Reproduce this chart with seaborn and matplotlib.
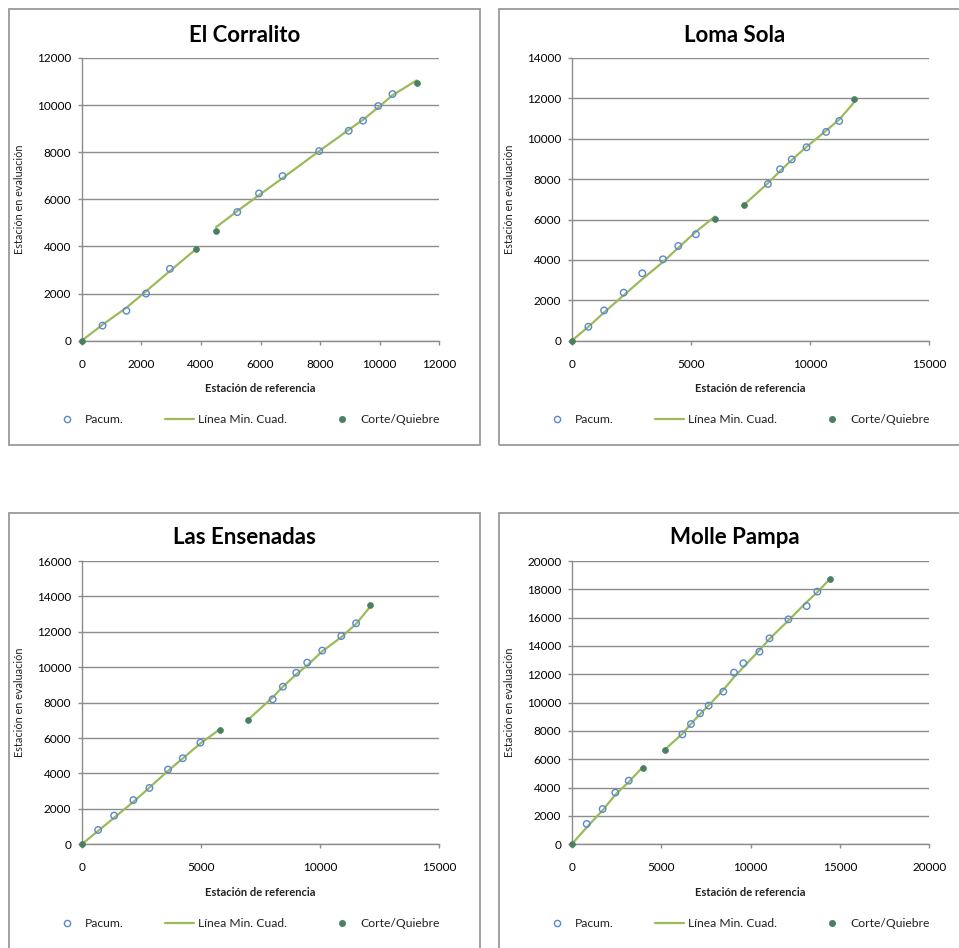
import numpy as np
import pandas as pd
import matplotlib
matplotlib.use("Agg")
import matplotlib.pyplot as plt
from matplotlib.patches import Rectangle
from matplotlib.lines import Line2D
import seaborn as sns

# ---- Datos: precipitación acumulada (mm) ----
# El Corralito
ec_ref = [0, 700, 1500, 2160, 2960, 3840, 4510, 5220, 5950, 6740, 7970, 8960, 9440, 9950, 10430, 11240]
ec_eva = [0, 640, 1270, 2000, 3050, 3890, 4670, 5460, 6250, 6990, 8050, 8910, 9340, 9960, 10470, 10920]
ec_ajuste = [0, 680, 1400, 2100, 2960, 3890, 4820, 5500, 6180, 6900, 8050, 8950, 9380, 9900, 10420, 11050]
ec_tramo = [1, 1, 1, 1, 1, 1, 2, 2, 2, 2, 2, 2, 2, 2, 2, 2]
ec_corte = [0, 5, 6, 15]

# Loma Sola
ls_ref = [0, 700, 1360, 2180, 2960, 3830, 4470, 5210, 6010, 7240, 8230, 8740, 9230, 9850, 10670, 11220, 11840]
ls_eva = [0, 690, 1500, 2380, 3340, 4030, 4690, 5270, 6030, 6740, 7760, 8490, 8980, 9580, 10340, 10880, 11970]
ls_ajuste = [0, 690, 1400, 2250, 3050, 3900, 4600, 5400, 6150, 6740, 7800, 8400, 8950, 9600, 10400, 10950, 11800]
ls_tramo = [1, 1, 1, 1, 1, 1, 1, 1, 1, 2, 2, 2, 2, 2, 2, 2, 2]
ls_corte = [0, 8, 9, 16]

# Las Ensenadas
le_ref = [0, 690, 1360, 2170, 2840, 3620, 4240, 4980, 5800, 6990, 8010, 8440, 9000, 9460, 10090, 10890, 11510, 12090]
le_eva = [0, 810, 1620, 2500, 3180, 4220, 4860, 5740, 6460, 7020, 8190, 8900, 9690, 10260, 10940, 11760, 12480, 13500]
le_ajuste = [0, 760, 1500, 2400, 3200, 4150, 4850, 5700, 6500, 7050, 8300, 8900, 9600, 10100, 10900, 11700, 12450, 13400]
le_tramo = [1, 1, 1, 1, 1, 1, 1, 1, 1, 2, 2, 2, 2, 2, 2, 2, 2, 2]
le_corte = [0, 8, 9, 17]

# Molle Pampa
mp_ref = [0, 840, 1730, 2440, 3190, 4010, 5220, 6190, 6670, 7180, 7660, 8480, 9080, 9600, 10500, 11060, 12120, 13140, 13740, 14450]
mp_eva = [0, 1440, 2490, 3650, 4490, 5360, 6660, 7760, 8490, 9250, 9790, 10780, 12120, 12780, 13600, 14540, 15880, 16820, 17840, 18730]
mp_ajuste = [0, 1200, 2400, 3500, 4400, 5500, 6700, 7800, 8500, 9200, 9800, 10900, 11800, 12500, 13700, 14500, 15800, 17100, 17800, 18750]
mp_tramo = [1, 1, 1, 1, 1, 1, 2, 2, 2, 2, 2, 2, 2, 2, 2, 2, 2, 2, 2, 2]
mp_corte = [0, 5, 6, 19]

estaciones = ["El Corralito", "Loma Sola", "Las Ensenadas", "Molle Pampa"]
series = [
    (ec_ref, ec_eva, ec_ajuste, ec_tramo, ec_corte),
    (ls_ref, ls_eva, ls_ajuste, ls_tramo, ls_corte),
    (le_ref, le_eva, le_ajuste, le_tramo, le_corte),
    (mp_ref, mp_eva, mp_ajuste, mp_tramo, mp_corte),
]
x_lims = [12000, 15000, 15000, 20000]
x_steps = [2000, 5000, 5000, 5000]
y_lims = [12000, 14000, 16000, 20000]

# ---- Estilo ----
sns.set_theme(style="white")
plt.rcParams["font.family"] = ["Lato", "DejaVu Sans"]

C_PAC = "#5B87CF"
C_LINEA = "#9BBB59"
C_CORTE = "#4A7F62"
C_GRID = "#8C8C8C"

W, H = 959, 948
fig = plt.figure(figsize=(W / 100, H / 100), dpi=100)
fig.patch.set_facecolor("white")


def fx(px):
    return px / W


def fy(py):
    return 1 - py / H


# bounding boxes of each chart (px): left, top, right, bottom
cajas = [(9, 9, 480, 445), (499, 9, 975, 445), (9, 513, 480, 965), (499, 513, 975, 965)]
# plot area (px): left, top, right, bottom
areas = [(81.7, 58, 439.3, 340.7), (571.7, 58, 929.3, 340.7),
         (81.7, 561, 439.3, 844.3), (571.7, 561, 929.3, 844.3)]

for i, nombre in enumerate(estaciones):
    ref, eva, ajuste, tramo, corte = series[i]
    bx0, by0, bx1, by1 = cajas[i]
    fig.patches.append(Rectangle((fx(bx0), fy(by1)), fx(bx1 - bx0), (by1 - by0) / H,
                                 transform=fig.transFigure, fill=False,
                                 edgecolor="#9A9A9A", linewidth=1.3, zorder=0))

    l, t, r, b = areas[i]
    ax = fig.add_axes([fx(l), fy(b), fx(r - l), (b - t) / H])
    ax.set_facecolor("none")

    df = pd.DataFrame({"ref": ref, "eva": eva, "ajuste": ajuste, "tramo": tramo})
    df_c = df.iloc[corte]
    df_p = df.drop(index=corte)

    sns.lineplot(data=df, x="ref", y="ajuste", units="tramo", estimator=None,
                 sort=False, color=C_LINEA, linewidth=1.6, ax=ax, zorder=3,
                 legend=False)
    sns.scatterplot(data=df_p, x="ref", y="eva", ax=ax, marker="o", s=22,
                    facecolor="none", edgecolor=C_PAC, linewidth=1.0, zorder=4,
                    clip_on=False, legend=False)
    sns.scatterplot(data=df_c, x="ref", y="eva", ax=ax, marker="o", s=18,
                    color=C_CORTE, edgecolor=C_CORTE, linewidth=0.5, zorder=5,
                    clip_on=False, legend=False)

    ax.set_xlim(0, x_lims[i])
    ax.set_ylim(0, y_lims[i])
    ax.set_xticks(np.arange(0, x_lims[i] + 1, x_steps[i]))
    ax.set_yticks(np.arange(0, y_lims[i] + 1, 2000))
    ax.yaxis.grid(True, color=C_GRID, linewidth=1.0)
    ax.xaxis.grid(False)
    ax.set_axisbelow(True)
    for s in ["top", "right"]:
        ax.spines[s].set_visible(False)
    for s in ["left", "bottom"]:
        ax.spines[s].set_color(C_GRID)
        ax.spines[s].set_linewidth(1.0)
    ax.tick_params(axis="x", direction="out", length=3, width=1, color=C_GRID,
                   pad=10, labelsize=8.5, labelcolor="black", bottom=True)
    ax.tick_params(axis="y", direction="out", length=3, width=1, color=C_GRID,
                   pad=4.5, labelsize=8.5, labelcolor="black", left=True)
    ax.set_xlabel("")
    ax.set_ylabel("")

    cx_box = (bx0 + min(bx1, bx0 + 471)) / 2
    fig.text(fx(cx_box), fy(t - 23), nombre, ha="center", va="center",
             fontsize=16, fontweight="bold", color="black")
    fig.text(fx((l + r) / 2), fy(b + 48), "Estación de referencia", ha="center",
             va="center", fontsize=8, fontweight="bold", color="#222222")
    fig.text(fx(l - 62), fy((t + b) / 2), "Estación en evaluación", ha="center",
             va="center", rotation=90, fontsize=7.8, color="#222222")

    handles = [
        Line2D([], [], linestyle="none", marker="o", markersize=4.5,
               markerfacecolor="none", markeredgecolor=C_PAC, markeredgewidth=1.0),
        Line2D([], [], color=C_LINEA, linewidth=1.6),
        Line2D([], [], linestyle="none", marker="o", markersize=4,
               markerfacecolor=C_CORTE, markeredgecolor=C_CORTE),
    ]
    fig.legend(handles, ["Pacum.", "Línea Min. Cuad.", "Corte/Quiebre"],
               loc="center left", bbox_to_anchor=(fx(l - 29), fy(b + 79)),
               ncol=3, frameon=False, fontsize=8.7, handlelength=2.4,
               handletextpad=0.3, columnspacing=3.4, borderpad=0,
               borderaxespad=0, labelcolor="#222222")

fig.savefig("out.png", dpi=100)
